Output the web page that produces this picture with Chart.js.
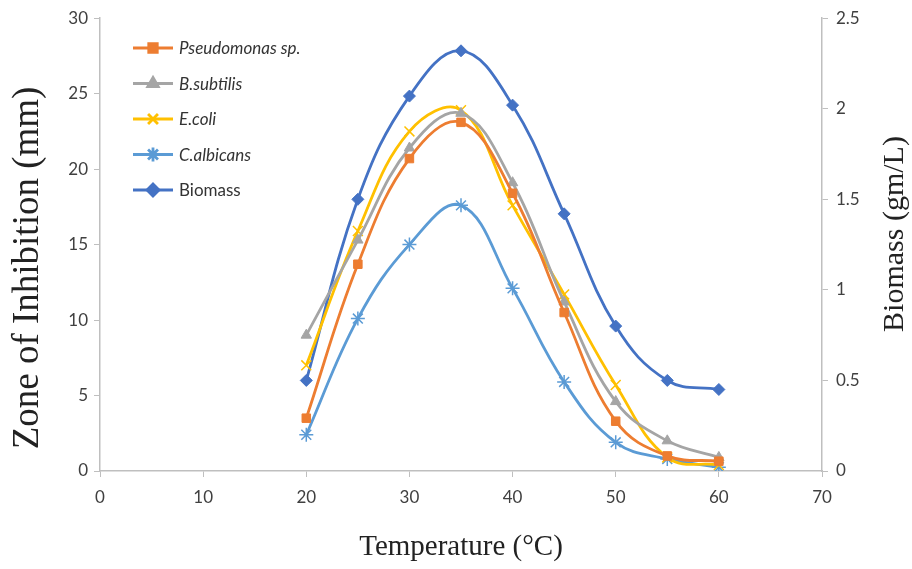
<!DOCTYPE html>
<html>
<head>
<meta charset="utf-8">
<script src="https://cdn.jsdelivr.net/npm/chart.js@4"></script>
<style>
  html, body { margin: 0; padding: 0; background: #fff; }
  #wrap { width: 912px; height: 569px; }
</style>
</head>
<body>
<div id="wrap"><canvas id="chart" width="912" height="569"></canvas></div>
<script>
// Temperature (°C) vs zone of inhibition (mm) and biomass (gm/L)
const temperatures = [20, 25, 30, 35, 40, 45, 50, 55, 60];
const pseudomonas = [3.5, 13.7, 20.7, 23.1, 18.4, 10.5, 3.3, 1.0, 0.65];
const bSubtilis   = [9.0, 15.3, 21.4, 23.7, 19.1, 11.2, 4.6, 2.0, 0.9];
const eColi       = [7.0, 15.9, 22.5, 23.9, 17.6, 11.7, 5.7, 0.9, 0.4];
const cAlbicans   = [2.4, 10.1, 15.0, 17.6, 12.1, 5.9, 1.9, 0.8, 0.25];
const biomass     = [0.50, 1.50, 2.07, 2.32, 2.02, 1.42, 0.80, 0.50, 0.45];

const xTicks = [0, 10, 20, 30, 40, 50, 60, 70];
const leftTitle = 'Zone of Inhibition (mm)';
const rightTitle = 'Biomass (gm/L)';

const pts = arr => arr.map((v, i) => ({ x: temperatures[i], y: v }));

function series(label, data, color, style, axis, italic) {
  const thin = style === 'crossRot' || style === 'star';
  return {
    label, data: pts(data), yAxisID: axis,
    borderColor: color, backgroundColor: color,
    borderWidth: 2.8, tension: 0.4,
    pointStyle: style, pointRadius: thin ? 7 : 6,
    pointBorderWidth: thin ? 1.5 : 1,
    italic
  };
}

const datasets = [
  series('Pseudomonas sp.', pseudomonas, '#ED7D31', 'rect', 'y', true),
  series('B.subtilis', bSubtilis, '#A5A5A5', 'triangle', 'y', true),
  series('E.coli', eColi, '#FFC000', 'crossRot', 'y', true),
  series('C.albicans', cAlbicans, '#5B9BD5', 'star', 'y', true),
  series('Biomass', biomass, '#4472C4', 'rectRot', 'y1', false)
];

// vertical legend inside plot, Excel style
const insideLegend = {
  id: 'insideLegend',
  afterDraw(chart) {
    const ctx = chart.ctx;
    const x0 = 133, y0 = 48, gap = 35.5;
    ctx.save();
    chart.data.datasets.forEach((ds, i) => {
      const y = y0 + i * gap;
      ctx.strokeStyle = ds.borderColor;
      ctx.fillStyle = ds.backgroundColor;
      ctx.lineWidth = 2.8;
      ctx.beginPath();
      ctx.moveTo(x0, y);
      ctx.lineTo(x0 + 40, y);
      ctx.stroke();
      Chart.helpers.drawPoint(ctx, {
        pointStyle: ds.pointStyle, radius: ds.pointRadius,
        borderWidth: ds.pointBorderWidth, rotation: 0
      }, x0 + 20, y);
      ctx.fillStyle = '#333';
      ctx.font = (ds.italic ? 'italic ' : '') + '17px Lato';
      ctx.textBaseline = 'middle';
      ctx.fillText(ds.label, x0 + 46, y + 1);
    });
    ctx.restore();
  }
};

// both y titles read bottom-to-top, like in Excel
const sideTitles = {
  id: 'sideTitles',
  afterDraw(chart) {
    const ctx = chart.ctx;
    const draw = (text, x, y, size) => {
      ctx.save();
      ctx.translate(x, y);
      ctx.rotate(-Math.PI / 2);
      ctx.font = size + 'px "Liberation Serif"';
      ctx.fillStyle = '#222';
      ctx.textAlign = 'center';
      ctx.textBaseline = 'middle';
      ctx.fillText(text, 0, 0);
      ctx.restore();
    };
    draw(leftTitle, 28, 268, 37);
    draw(rightTitle, 895, 234, 30);
  }
};

const tickFont = { family: 'Lato', size: 17 };
const axisGrey = '#BFBFBF';

new Chart(document.getElementById('chart'), {
  type: 'line',
  data: { datasets },
  plugins: [insideLegend, sideTitles],
  options: {
    responsive: false,
    animation: false,
    layout: { padding: { top: 10, left: 0, right: 0, bottom: 0 } },
    plugins: { legend: { display: false }, tooltip: { enabled: false } },
    scales: {
      x: {
        type: 'linear', min: 0, max: 70,
        afterBuildTicks: s => { s.ticks = xTicks.map(v => ({ value: v })); },
        afterFit: s => { s.height = 98; },
        ticks: { color: '#404040', font: tickFont, padding: 10 },
        grid: { display: true, drawOnChartArea: false, color: axisGrey, tickLength: 6 },
        border: { color: axisGrey, width: 1.5 },
        title: { display: true, text: 'Temperature (°C)', color: '#222', font: { family: 'Liberation Serif', size: 29 }, padding: { top: 12 } }
      },
      y: {
        position: 'left', min: 0, max: 30,
        afterFit: s => { s.width = 100; },
        ticks: { stepSize: 5, color: '#404040', font: tickFont, padding: 6 },
        grid: { display: true, drawOnChartArea: false, color: axisGrey, tickLength: 6 },
        border: { color: axisGrey, width: 1.5 }
      },
      y1: {
        position: 'right', min: 0, max: 2.5,
        afterFit: s => { s.width = 90; },
        ticks: { stepSize: 0.5, color: '#404040', font: tickFont, padding: 8, callback: v => String(v) },
        grid: { display: true, drawOnChartArea: false, color: axisGrey, tickLength: 6 },
        border: { color: axisGrey, width: 1.5 }
      }
    }
  }
});
</script>
</body>
</html>
